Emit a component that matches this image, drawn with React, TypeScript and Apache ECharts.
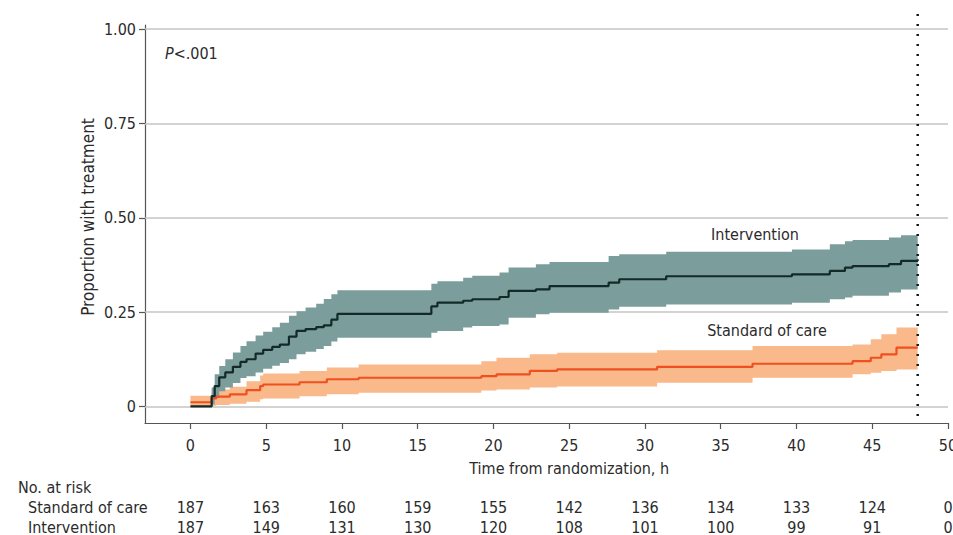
import React, { useEffect, useRef } from 'react';
import * as echarts from 'echarts';

// ---- Data ----
const xTicks = [0, 5, 10, 15, 20, 25, 30, 35, 40, 45, 50];
const yTicks = [0, 0.25, 0.5, 0.75, 1];

const intTimes = [0, 1.4, 1.6, 1.9, 2.3, 2.8, 3.3, 3.7, 4.3, 4.8, 5.4, 5.9, 6.5, 7.0, 7.6, 8.3, 8.8, 9.3, 9.7, 15.9, 16.3, 18.0, 18.6, 20.4, 21.0, 22.8, 23.7, 27.6, 28.3, 31.4, 39.7, 42.2, 43.2, 43.7, 46.1, 46.9, 48.0];
const intProp = [0, 0.027, 0.054, 0.077, 0.09, 0.105, 0.118, 0.125, 0.14, 0.15, 0.158, 0.164, 0.185, 0.2, 0.205, 0.21, 0.215, 0.23, 0.245, 0.265, 0.275, 0.28, 0.284, 0.29, 0.306, 0.31, 0.319, 0.328, 0.337, 0.345, 0.35, 0.359, 0.368, 0.372, 0.377, 0.386, 0.39];
const intLower = [0, 0.005, 0.022, 0.04, 0.05, 0.062, 0.075, 0.08, 0.09, 0.1, 0.108, 0.115, 0.125, 0.138, 0.145, 0.152, 0.16, 0.172, 0.182, 0.195, 0.2, 0.209, 0.213, 0.217, 0.235, 0.244, 0.248, 0.257, 0.264, 0.27, 0.275, 0.284, 0.289, 0.293, 0.302, 0.31, 0.31];
const intUpper = [0, 0.05, 0.085, 0.107, 0.125, 0.143, 0.16, 0.173, 0.188, 0.198, 0.21, 0.222, 0.24, 0.252, 0.262, 0.272, 0.285, 0.297, 0.308, 0.325, 0.332, 0.341, 0.346, 0.355, 0.368, 0.377, 0.383, 0.399, 0.403, 0.41, 0.416, 0.43, 0.438, 0.441, 0.448, 0.454, 0.454];

const socTimes = [0, 1.4, 1.7, 2.6, 3.7, 4.6, 4.8, 7.2, 9.0, 11.1, 19.2, 20.2, 22.4, 24.2, 30.8, 37.1, 43.7, 44.9, 45.6, 46.6, 48.0];
const socProp = [0.011, 0.021, 0.026, 0.032, 0.043, 0.054, 0.058, 0.064, 0.072, 0.076, 0.08, 0.085, 0.094, 0.098, 0.105, 0.113, 0.12, 0.129, 0.138, 0.156, 0.156];
const socLower = [0, 0.002, 0.004, 0.007, 0.012, 0.019, 0.021, 0.027, 0.032, 0.036, 0.042, 0.045, 0.05, 0.053, 0.063, 0.076, 0.085, 0.089, 0.094, 0.098, 0.098];
const socUpper = [0.028, 0.04, 0.045, 0.052, 0.067, 0.082, 0.087, 0.094, 0.103, 0.111, 0.12, 0.129, 0.138, 0.142, 0.149, 0.16, 0.164, 0.178, 0.191, 0.209, 0.209];

const riskTimes = [0, 5, 10, 15, 20, 25, 30, 35, 40, 45, 50];
const riskSoc = [187, 163, 160, 159, 155, 142, 136, 134, 133, 124, 0];
const riskInt = [187, 149, 131, 130, 120, 108, 101, 100, 99, 91, 0];
const followUpEnd = 48;

const FONT = '"DejaVu Sans Condensed", "Liberation Sans Narrow", sans-serif';
const TXT = '#2b2b2b';

function pairs(ts: number[], vs: number[]) {
  return ts.map((t, i) => [t, vs[i]]);
}

// step-shaped confidence band drawn as one polygon through the axes' scales
function bandSeries(name: string, ts: number[], lo: number[], up: number[], color: string) {
  return {
    type: 'custom',
    name,
    silent: true,
    data: ts.map((t, i) => [t, lo[i], up[i]]),
    encode: { x: 0, y: [1, 2] },
    renderItem: (params: any, api: any) => {
      if (params.dataIndex !== 0) return null;
      const top: number[][] = [];
      const bottom: number[][] = [];
      for (let i = 0; i < ts.length; i++) {
        const tNext = i < ts.length - 1 ? ts[i + 1] : ts[i];
        top.push(api.coord([ts[i], up[i]]));
        top.push(api.coord([tNext, up[i]]));
        bottom.push(api.coord([ts[i], lo[i]]));
        bottom.push(api.coord([tNext, lo[i]]));
      }
      const points = top.concat(bottom.reverse());
      return {
        type: 'polygon',
        shape: { points },
        style: { fill: color, stroke: 'none' },
      };
    },
  };
}

export default function App() {
  const ref = useRef<HTMLDivElement>(null);
  useEffect(() => {
    document.body.style.margin = '0';
    const chart = echarts.init(ref.current!, undefined, { renderer: 'svg' });
    const option: any = {
      animation: false,
      grid: { left: 145, right: 5, top: 25, bottom: 112, containLabel: false, outerBoundsMode: 'none' },
      xAxis: {
        type: 'value',
        min: -3,
        max: 50,
        splitLine: { show: false },
        axisLine: { show: true, onZero: false, lineStyle: { color: '#555', width: 1.2 } },
        axisTick: { show: true, customValues: xTicks, length: 6, lineStyle: { color: '#555', width: 1.2 } },
        axisLabel: { customValues: xTicks, margin: 14, fontSize: 16, color: TXT, fontFamily: FONT },
      },
      yAxis: {
        type: 'value',
        min: -0.044,
        max: 1.011,
        splitLine: { show: false },
        axisLine: { show: true, onZero: false, lineStyle: { color: '#555', width: 1.2 } },
        axisTick: { show: true, customValues: yTicks, length: 6, lineStyle: { color: '#555', width: 1.2 } },
        axisLabel: {
          customValues: yTicks,
          margin: 9,
          fontSize: 16,
          color: TXT,
          fontFamily: FONT,
          formatter: (v: number) => (v === 0 ? '0' : v.toFixed(2)),
        },
      },
      series: [
        {
          type: 'line', name: 'grid', silent: true, data: [], showSymbol: false,
          markLine: {
            silent: true, symbol: 'none', z: 1, label: { show: false },
            lineStyle: { color: '#c4c4c4', type: 'solid', width: 1.5 },
            data: yTicks.map((v) => ({ yAxis: v })),
          },
        },
        bandSeries('socBand', socTimes, socLower, socUpper, '#f9b98b'),
        bandSeries('intBand', intTimes, intLower, intUpper, '#7b9e9d'),
        {
          type: 'line', name: 'Standard of care', step: 'end', showSymbol: false, silent: true,
          lineStyle: { color: '#ee5020', width: 2.2 }, data: pairs(socTimes, socProp),
        },
        {
          type: 'line', name: 'Intervention', step: 'end', showSymbol: false, silent: true,
          lineStyle: { color: '#132a28', width: 2.2 }, data: pairs(intTimes, intProp),
        },
      ],
    };
    chart.setOption(option);

    const px = (t: number) => chart.convertToPixel({ xAxisIndex: 0 }, t) as number;
    const py = (v: number) => chart.convertToPixel({ yAxisIndex: 0 }, v) as number;
    const txt = (text: string, x: number, y: number, align: string = 'center', extra: any = {}) => ({
      type: 'text',
      x,
      y,
      silent: true,
      style: { text, fill: TXT, font: `16px ${FONT}`, align, verticalAlign: 'middle', ...extra },
    });
    const graphics: any[] = [];
    const xe = px(followUpEnd);
    graphics.push({
      type: 'line', silent: true, z: 10,
      shape: { x1: xe, y1: 14, x2: xe, y2: py(-0.044) },
      style: { stroke: '#1a1a1a', lineWidth: 2.5, lineDash: [2, 8] },
    });
    graphics.push({
      type: 'text', x: 165, y: 53, silent: true,
      style: {
        text: '{i|P}<.001', fill: TXT, font: `16px ${FONT}`, verticalAlign: 'middle',
        rich: { i: { fontStyle: 'italic', fontSize: 16, fontFamily: FONT, fill: TXT } },
      },
    });
    graphics.push(txt('Intervention', 755, 234));
    graphics.push(txt('Standard of care', 767, 330));
    graphics.push({
      type: 'text', x: 88, y: 217, rotation: Math.PI / 2, silent: true,
      style: { text: 'Proportion with treatment', fill: TXT, font: `17px ${FONT}`, align: 'center', verticalAlign: 'middle' },
    });
    graphics.push(txt('Time from randomization, h', px(25), 468));
    graphics.push(txt('No. at risk', 18, 487, 'left'));
    graphics.push(txt('Standard of care', 28, 507, 'left'));
    graphics.push(txt('Intervention', 28, 527, 'left'));
    riskTimes.forEach((t, i) => {
      graphics.push(txt(String(riskSoc[i]), px(t), 507));
      graphics.push(txt(String(riskInt[i]), px(t), 527));
    });
    chart.setOption({ graphic: graphics });

    return () => chart.dispose();
  }, []);
  return <div ref={ref} style={{ position: 'fixed', left: 0, top: 0, width: 953, height: 535, background: '#fff' }} />;
}
